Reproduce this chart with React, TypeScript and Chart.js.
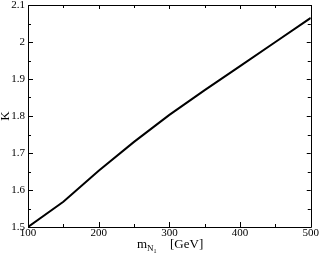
import React, { useEffect, useRef } from "react";
import { Chart, registerables } from "chart.js";

Chart.register(...registerables);

const massValues = [100, 150, 200, 250, 300, 350, 400, 450, 500];
const kValues = [1.5, 1.568, 1.652, 1.73, 1.803, 1.87, 1.935, 2.0, 2.065];
const xTickValues = [100, 200, 300, 400, 500];
const xMinorTicks = [150, 250, 350, 450];
const yTickValues = [1.5, 1.6, 1.7, 1.8, 1.9, 2.0, 2.1];
const yMinorTicks = [1.55, 1.65, 1.75, 1.85, 1.95, 2.05];

const FONT = "'Liberation Serif', 'Times New Roman', serif";

const framePlugin = {
  id: "frameTicks",
  afterDraw(chart: any) {
    const { ctx, chartArea, scales } = chart;
    const { left, right, top, bottom } = chartArea;
    const xs = scales.x;
    const ys = scales.y;
    ctx.save();
    ctx.strokeStyle = "#000";
    ctx.lineWidth = 1;
    ctx.beginPath();
    ctx.rect(Math.round(left) + 0.5, Math.round(top) + 0.5, Math.round(right - left), Math.round(bottom - top));
    ctx.stroke();
    const drawX = (v: number, lenB: number, lenT: number) => {
      const px = Math.round(xs.getPixelForValue(v)) + 0.5;
      ctx.beginPath();
      ctx.moveTo(px, bottom);
      ctx.lineTo(px, bottom - lenB);
      ctx.moveTo(px, top);
      ctx.lineTo(px, top + lenT);
      ctx.stroke();
    };
    const drawY = (v: number, lenL: number, lenR: number) => {
      const py = Math.round(ys.getPixelForValue(v)) + 0.5;
      ctx.beginPath();
      ctx.moveTo(left, py);
      ctx.lineTo(left + lenL, py);
      ctx.moveTo(right, py);
      ctx.lineTo(right - lenR, py);
      ctx.stroke();
    };
    xTickValues.forEach((v) => drawX(v, 5, 4));
    xMinorTicks.forEach((v) => drawX(v, 3, 3));
    yTickValues.forEach((v) => drawY(v, 5, 4));
    yMinorTicks.forEach((v) => drawY(v, 3, 3));

    // Y title
    ctx.fillStyle = "#000";
    ctx.save();
    ctx.translate(6, (top + bottom) / 2);
    ctx.rotate(-Math.PI / 2);
    ctx.font = `13px ${FONT}`;
    ctx.textAlign = "center";
    ctx.textBaseline = "middle";
    ctx.fillText("K", 0, 0);
    ctx.restore();

    // X title: m_{N_1}   [GeV]
    ctx.textBaseline = "alphabetic";
    ctx.textAlign = "left";
    const baseY = 248;
    let x = 137;
    ctx.font = `13px ${FONT}`;
    ctx.fillText("m", x, baseY);
    x += ctx.measureText("m").width;
    ctx.font = `9px ${FONT}`;
    ctx.fillText("N", x, baseY + 3);
    x += ctx.measureText("N").width;
    ctx.font = `6px ${FONT}`;
    ctx.fillText("1", x, baseY + 5);
    ctx.font = `13px ${FONT}`;
    ctx.fillText("[GeV]", 170, baseY);
    ctx.restore();
  },
};

export default function App() {
  const canvasRef = useRef<HTMLCanvasElement>(null);

  useEffect(() => {
    document.body.style.margin = "0";
    const canvas = canvasRef.current;
    if (!canvas) return;
    const chart = new Chart(canvas, {
      type: "line",
      data: {
        datasets: [
          {
            data: massValues.map((m, i) => ({ x: m, y: kValues[i] })),
            borderColor: "#000",
            borderWidth: 2,
            pointRadius: 0,
            fill: false,
            tension: 0,
          },
        ],
      },
      options: {
        animation: false,
        responsive: false,
        devicePixelRatio: 1,
        layout: { padding: { top: 5, right: 0, left: 0, bottom: 0 } },
        plugins: { legend: { display: false }, tooltip: { enabled: false } },
        scales: {
          x: {
            type: "linear",
            min: 100,
            max: 500,
            grid: { display: false, drawTicks: false },
            border: { display: false },
            afterFit: (s: any) => {
              s.height = 27;
            },
            afterBuildTicks: (s: any) => {
              s.ticks = xTickValues.map((v) => ({ value: v }));
            },
            ticks: {
              color: "#000",
              padding: 0,
              maxRotation: 0,
              autoSkip: false,
              font: { family: FONT, size: 11 },
              callback: (v: any) => String(v),
            },
          },
          y: {
            type: "linear",
            min: 1.5,
            max: 2.1,
            grid: { display: false, drawTicks: false },
            border: { display: false },
            afterFit: (s: any) => {
              s.width = 28;
              s.paddingTop = 0;
              s.paddingBottom = 0;
            },
            afterBuildTicks: (s: any) => {
              s.ticks = yTickValues.map((v) => ({ value: v }));
            },
            ticks: {
              color: "#000",
              padding: 3,
              autoSkip: false,
              font: { family: FONT, size: 11 },
              callback: (v: any) => String(Math.round(Number(v) * 10) / 10),
            },
          },
        },
      },
      plugins: [framePlugin],
    });
    return () => chart.destroy();
  }, []);

  return (
    <div style={{ position: "absolute", left: 0, top: 0, width: 319, height: 254, background: "#fff" }}>
      <canvas ref={canvasRef} width={319} height={254} style={{ width: 319, height: 254 }} />
    </div>
  );
}
